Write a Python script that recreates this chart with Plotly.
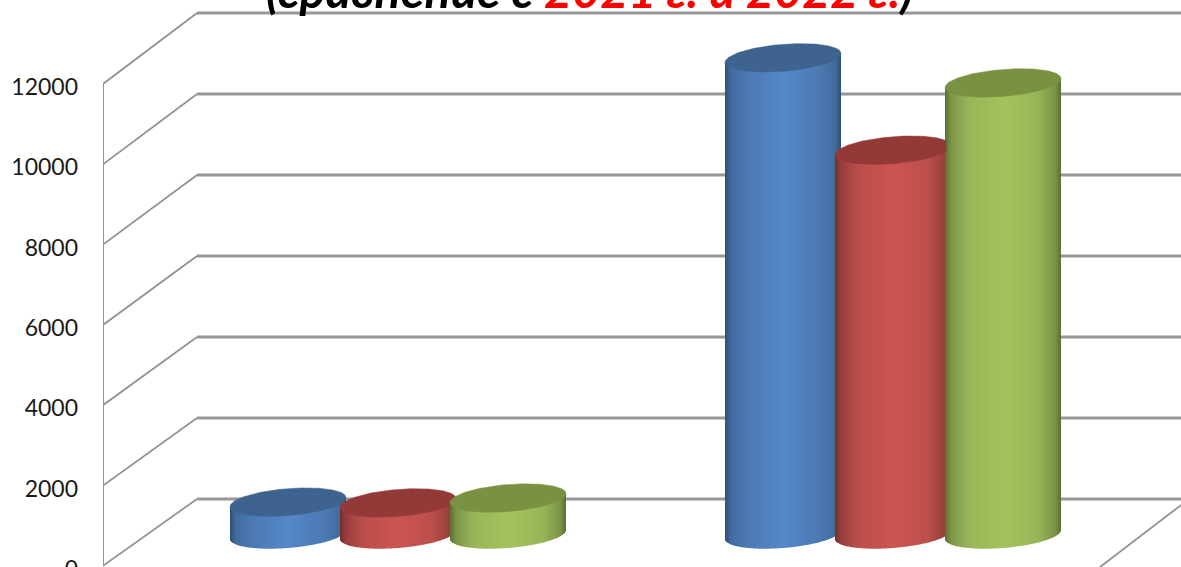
import numpy as np
import plotly.graph_objects as go

# ---- data ----
group_index = [0, 1]
series_a = [800, 11770]
series_b = [780, 9490]
series_c = [900, 11150]
tick_values = [0, 2000, 4000, 6000, 8000, 10000, 12000]

# ---- styling ----
W, H = 1181, 567
EXTRA = 24            # plot runs past the window so the clipped 0 label is still drawn
LEFT = 103
CAT_PX = 495          # width of a category on the front edge
DEPTH_X, DEPTH_Y = 94, 71
BACK_ZERO_PX = 499
K = 81 / 2000         # px per value on the back wall
FRONT_TOP_PX, FRONT_K = 84, 80.3 / 2000
LABEL_TOP_PX = 87
GRID = "#979797"
AX = "#939393"
STOPS = [0, 0.05, 0.2, 0.5, 0.8, 0.95, 1]
PAL = [
    dict(edge=(0x2e, 0x4f, 0x78), mid=(0x42, 0x6c, 0x9e), quarter=(0x4c, 0x7b, 0xb4), lit=(0x55, 0x88, 0xc9), top="#3e638f"),
    dict(edge=(0x74, 0x2d, 0x2b), mid=(0x96, 0x3f, 0x3d), quarter=(0xbc, 0x4f, 0x4c), lit=(0xcd, 0x55, 0x52), top="#933938"),
    dict(edge=(0x5a, 0x70, 0x33), mid=(0x7c, 0x94, 0x47), quarter=(0x98, 0xb6, 0x58), lit=(0xa3, 0xc4, 0x5c), top="#7a9141"),
]
A_PX, B_PX, TILT_PX = 58, 13.5, 4.5
SPACING_PX = 110
px = 1 / CAT_PX


def back_val(px_y):
    return (BACK_ZERO_PX - px_y) / K


def front_val(v):
    return back_val(FRONT_TOP_PX + (12000 - v) * FRONT_K)


def label_val(v):
    return back_val(LABEL_TOP_PX + (12000 - v) * FRONT_K)


def shade(pal, u):
    t = (u + 1) / 2
    keys = ["edge", "mid", "quarter", "lit", "quarter", "mid", "edge"]
    ch = [np.interp(t, STOPS, [pal[k][i] for k in keys]) for i in range(3)]
    return "rgb(%d,%d,%d)" % tuple(ch)


x_of_px = lambda p: (p - LEFT) * px
fig = go.Figure()
mid_zero = (BACK_ZERO_PX + DEPTH_Y / 2)
zero_val = back_val(mid_zero)
columns = [series_a, series_b, series_c]

for g in group_index:
    centre = LEFT + DEPTH_X / 2 + (g + 0.5) * CAT_PX + 0.5
    tops = [zero_val + c[g] for c in columns]
    for s, col in enumerate(columns):
        cx = centre + (s - 1) * SPACING_PX
        top = tops[s]
        xs = np.arange(cx - A_PX, cx + A_PX)
        us = (xs + 0.5 - cx) / A_PX
        root = np.sqrt(np.clip(1 - us ** 2, 0, 1))
        base = zero_val + (TILT_PX * us - B_PX * root) / K
        upper = top + TILT_PX * us / K
        fig.add_bar(
            x=x_of_px(xs + 0.5), y=upper - base, base=base,
            width=px, marker=dict(color=[shade(PAL[s], u) for u in us], line_width=0),
            hoverinfo="skip", showlegend=False,
        )
        t = np.linspace(0, 2 * np.pi, 181)
        ex = cx + A_PX * np.cos(t)
        ey = top + (TILT_PX * np.cos(t) + B_PX * np.sin(t)) / K
        if s < 2 and tops[s + 1] - top > 1000:
            ex = np.minimum(ex, centre + s * SPACING_PX - A_PX + 1)
        fig.add_scatter(
            x=x_of_px(ex), y=ey, mode="lines", fill="toself", fillcolor=PAL[s]["top"],
            line=dict(width=0.5, color=PAL[s]["top"]), hoverinfo="skip", showlegend=False,
        )

shapes = []
for v in tick_values:
    by = back_val(BACK_ZERO_PX - v * K)
    shapes.append(dict(type="line", xref="x", yref="y", layer="below",
                       x0=x_of_px(LEFT + DEPTH_X), x1=x_of_px(W + 5), y0=by, y1=by,
                       line=dict(color=GRID, width=3)))
    shapes.append(dict(type="line", xref="x", yref="y", layer="below",
                       x0=0, x1=x_of_px(LEFT + DEPTH_X), y0=front_val(v), y1=by,
                       line=dict(color=AX, width=1.8)))
shapes.append(dict(type="line", xref="x", yref="y", layer="below",
                   x0=0, x1=0, y0=front_val(0), y1=front_val(12000),
                   line=dict(color=AX, width=2)))
shapes.append(dict(type="line", xref="x", yref="y", layer="below",
                   x0=x_of_px(1100), x1=x_of_px(1189), y0=back_val(H), y1=0,
                   line=dict(color=AX, width=1.8)))

fig.update_layout(
    width=W, height=H + EXTRA, margin=dict(l=LEFT, r=0, t=0, b=0),
    paper_bgcolor="white", plot_bgcolor="white", barmode="overlay", showlegend=False,
    shapes=shapes,
    xaxis=dict(visible=False, range=[0, x_of_px(W)], fixedrange=True),
    yaxis=dict(range=[back_val(H + EXTRA), back_val(0)], tickmode="array",
               tickvals=[label_val(v) for v in tick_values],
               ticktext=[str(v) for v in tick_values],
               tickfont=dict(family="Lato", size=23, color="#1a1a1a"),
               showgrid=False, zeroline=False, showline=False, ticks="",
               ticklabelstandoff=24, fixedrange=True),
    annotations=[dict(
        xref="paper", yref="paper", x=(589 - LEFT) / (W - LEFT), y=1 - 20 / (H + EXTRA),
        xanchor="center", yanchor="bottom", showarrow=False,
        text='<b><i>(сравнение с <span style="color:#ff0000">2021 г. и 2022 г.</span>)</i></b>',
        font=dict(family="Lato", size=48.5, color="#000000"),
    )],
)

fig.write_html("out.html", config={"displayModeBar": False},
               post_script="document.body.style.margin='0';document.body.style.overflow='hidden';")
